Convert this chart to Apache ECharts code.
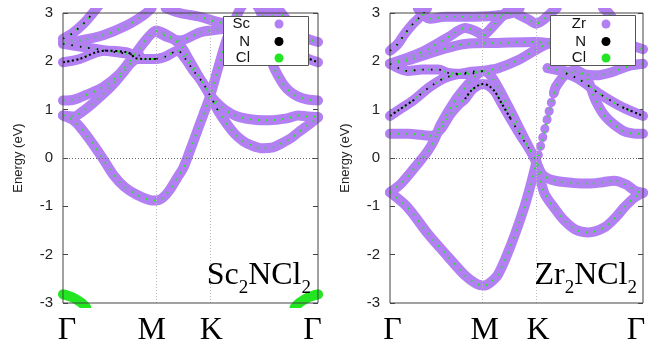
<!DOCTYPE html>
<html><head><meta charset="utf-8">
<script src="https://cdn.jsdelivr.net/npm/echarts@6/dist/echarts.min.js"></script>
<style>html,body{margin:0;padding:0;background:#fff}#c{width:651px;height:352px}</style>
</head><body><div id="c"></div>
<script>
// ---- axis data ----
const K_POS = [0, 1, 1.577, 2.732];
const K_LABELS = ['Γ', 'M', 'K', 'Γ'];
const E_MIN = -3, E_MAX = 3, E_STEP = 1;

// ---- Sc2NCl2 bands [k, E(eV)] ----
const sc_b1 = [[0,0.88],[0.11,0.78],[0.2,0.6],[0.32,0.29],[0.43,-0.02],[0.54,-0.35],[0.66,-0.6],[0.79,-0.76],[0.93,-0.87],[1.0,-0.88],[1.07,-0.82],[1.14,-0.67],[1.22,-0.42],[1.29,-0.2],[1.36,0.15],[1.45,0.62],[1.5,0.88],[1.577,1.29],[1.66,1.85],[1.75,2.43],[1.84,2.85],[1.92,3.15],[2.0,3.25],[2.08,3.15],[2.14,2.9],[2.2,2.3],[2.25,1.92],[2.3,1.72],[2.37,1.5],[2.43,1.38],[2.52,1.27],[2.62,1.21],[2.732,1.19]];
const sc_b2 = [[0,1.98],[0.18,2.05],[0.36,2.19],[0.47,2.22],[0.68,2.19],[0.73,2.15],[0.77,2.07],[0.88,2.05],[1.0,2.05],[1.1,2.1],[1.23,2.22],[1.3,2.08],[1.4,1.8],[1.5,1.55],[1.577,1.29],[1.66,0.98],[1.75,0.72],[1.84,0.5],[1.93,0.35],[2.02,0.26],[2.14,0.2],[2.25,0.22],[2.34,0.3],[2.45,0.42],[2.52,0.53],[2.64,0.7],[2.732,0.84]];
const sc_b3 = [[0,1.19],[0.1,1.2],[0.18,1.25],[0.43,1.47],[0.61,1.75],[0.75,2.09],[0.9,2.47],[1.0,2.64],[1.1,2.56],[1.2,2.44],[1.27,2.3],[1.34,2.07],[1.45,1.7],[1.577,1.3],[1.7,1.05],[1.8,0.92],[1.9,0.84],[2.05,0.79],[2.2,0.78],[2.4,0.82],[2.52,0.88],[2.62,0.86],[2.732,0.85]];
const sc_b4 = [[0,0.88],[0.12,0.86],[0.2,0.95],[0.3,1.1],[0.43,1.32],[0.55,1.55],[0.65,1.78],[0.72,1.95],[0.8,2.05],[0.9,2.05],[1.0,2.05]];
const sc_b5 = [[0,2.47],[0.1,2.58],[0.22,2.78],[0.32,3.0],[0.4,3.2]];
const sc_b6 = [[0,2.4],[0.2,2.44],[0.43,2.54],[0.68,2.74],[0.86,2.95],[0.95,3.1]];
const sc_b7 = [[0,2.36],[0.2,2.3],[0.4,2.24],[0.6,2.18],[0.82,2.12]];
const sc_b8 = [[2.3,3.1],[2.4,2.85],[2.5,2.62],[2.62,2.47],[2.732,2.4]];
const sc_b9 = [[2.2,3.1],[2.3,2.7],[2.45,2.3],[2.6,2.08],[2.732,1.98]];
const sc_b10 = [[1.0,2.62],[1.12,2.5],[1.25,2.43],[1.47,2.6],[1.71,2.67],[1.9,2.72]];
const sc_b11 = [[1.1,3.1],[1.25,3.0],[1.47,2.92],[1.71,2.8],[1.9,2.85]];
const sc_cl1 = [[0,-2.82],[0.1,-2.88],[0.2,-3.0],[0.25,-3.1]];
const sc_cl2 = [[2.48,-3.1],[2.53,-3.0],[2.63,-2.88],[2.732,-2.82]];

// ---- Zr2NCl2 bands [k, E(eV)] ----
const zr_b1a = [[0,-0.71],[0.19,-1.02],[0.41,-1.57],[0.63,-2.05],[0.81,-2.43],[0.93,-2.6],[1.01,-2.64],[1.08,-2.58],[1.17,-2.4],[1.31,-1.78],[1.45,-1.02],[1.52,-0.55],[1.577,-0.12]];
const zr_b1b = [[1.577,-0.12],[1.6,0.05],[1.65,0.43],[1.72,0.98],[1.77,1.35]];
const zr_b1c = [[1.77,1.35],[1.79,1.47],[1.9,1.74],[2.01,1.81],[2.12,1.67],[2.22,1.19],[2.33,0.85],[2.51,0.57],[2.62,0.51],[2.732,0.5]];
const zr_b2 = [[0,-0.71],[0.12,-0.53],[0.3,-0.12],[0.41,0.15],[0.48,0.38],[0.55,0.7],[0.7,1.18],[0.84,1.52],[0.95,1.74],[1.0,1.8],[1.08,1.72],[1.18,1.42],[1.3,0.98],[1.4,0.6],[1.5,0.22],[1.577,-0.08],[1.65,-0.35],[1.78,-0.47],[2.0,-0.52],[2.14,-0.53],[2.3,-0.5],[2.42,-0.47],[2.55,-0.55],[2.64,-0.67],[2.732,-0.72]];
const zr_b4 = [[0,0.5],[0.2,0.5],[0.33,0.48],[0.45,0.46],[0.55,0.6],[0.65,0.9],[0.75,1.12],[0.81,1.22],[0.88,1.4],[0.95,1.5],[1.0,1.53],[1.06,1.5],[1.13,1.38],[1.2,1.15],[1.3,0.82],[1.4,0.5],[1.5,0.2],[1.577,-0.05],[1.62,-0.4],[1.67,-0.74],[1.78,-1.05],[1.88,-1.29],[2.0,-1.48],[2.14,-1.54],[2.32,-1.43],[2.45,-1.2],[2.53,-1.02],[2.64,-0.82],[2.732,-0.72]];
const zr_b5 = [[0,1.95],[0.33,2.18],[0.63,2.5],[0.81,2.69],[0.95,2.6],[1.0,2.53],[1.05,2.6],[1.1,2.7],[1.22,2.95],[1.3,3.1]];
const zr_b6 = [[0,1.95],[0.1,1.85],[0.19,1.8],[0.35,1.83],[0.52,1.83],[0.63,1.76],[0.84,1.74],[1.0,1.8],[1.17,1.86],[1.38,2.02],[1.56,2.22],[1.7,2.36],[1.85,2.45]];
const zr_b7 = [[0,1.95],[0.19,2.02],[0.52,2.22],[0.81,2.36],[1.17,2.38],[1.56,2.4],[1.7,2.38],[1.85,2.32]];
const zr_b8a = [[0,0.87],[0.1,1.0],[0.25,1.19],[0.43,1.47],[0.61,1.67],[0.86,1.78],[1.0,1.8]];
const zr_b8b = [[1.9,1.75],[2.05,1.62],[2.26,1.33],[2.51,1.05],[2.732,0.87]];
const zr_b9 = [[1.7,1.86],[1.87,1.8],[2.05,1.74],[2.23,1.71],[2.4,1.78],[2.59,1.91],[2.732,1.95]];
const zr_b10 = [[2.3,3.1],[2.37,2.98],[2.5,2.6],[2.6,2.35],[2.732,2.25]];
const zr_b11 = [[0,2.22],[0.08,2.35],[0.16,2.57],[0.25,2.78],[0.34,2.95],[0.4,3.1]];
const zr_b12 = [[0.3,3.1],[0.43,2.88],[0.6,2.92],[0.86,2.92],[1.15,2.95],[1.3,2.99],[1.4,3.1]];
const zr_b13 = [[1.3,3.1],[1.37,2.99],[1.51,2.85],[1.577,2.78],[1.65,2.85],[1.73,2.99],[1.8,3.1]];

// ---- styles ----
const PURPLE = '#b280f2', GREEN = '#22e622', BLACK = '#000';

const scBands = [sc_b1, sc_b2, sc_b3, sc_b4, sc_b5, sc_b6, sc_b7, sc_b8, sc_b9, sc_b10, sc_b11];
const scDotted = [];
const scNdense = [sc_b2.slice(0, 9), sc_b9.slice(3)];
const scNsparse = [sc_b2.slice(8, 16), sc_b7, sc_b5];
const scCl = [sc_cl1, sc_cl2];
const zrBands = [zr_b1a, zr_b1c, zr_b2, zr_b4, zr_b5, zr_b6, zr_b7, zr_b8a, zr_b8b, zr_b9, zr_b10, zr_b11, zr_b12, zr_b13];
const zrDotted = [zr_b1b];
const zrNdense = [zr_b4.slice(7, 15), zr_b8a.slice(0, 3), zr_b8b.slice(3)];
const zrNsparse = [zr_b4.slice(14, 17), zr_b8a.slice(2), zr_b8b.slice(0, 4), zr_b6.slice(0, 8), zr_b11];

function line(data, gi, name, color, width, type, z, cap) {
  return {
    type: 'line', name: name, data: data, xAxisIndex: gi, yAxisIndex: gi * 2,
    showSymbol: false, smooth: 0.3, clip: true, silent: true, z: z,
    lineStyle: { color: color, width: width, type: type, cap: cap || 'round', join: 'round' }
  };
}

const series = [];
function panel(gi, metal, bands, dotted, nDense, nSparse, clList) {
  series.push({
    type: 'line', data: [], xAxisIndex: gi, yAxisIndex: gi * 2, silent: true,
    markLine: {
      symbol: 'none', silent: true, label: { show: false }, animation: false,
      data: [
        { xAxis: K_POS[1], lineStyle: { color: '#bbb', type: [1, 2], width: 1 } },
        { xAxis: K_POS[2], lineStyle: { color: '#bbb', type: [1, 2], width: 1 } },
        { yAxis: 0, lineStyle: { color: '#666', type: [1, 2], width: 1 } }
      ]
    }
  });
  bands.forEach(b => series.push(line(b, gi, metal, PURPLE, 10, 'solid', 3)));
  dotted.forEach(b => series.push(line(b, gi, metal, PURPLE, 9, [0.5, 8.5], 3)));
  clList.forEach(b => series.push(line(b, gi, 'Cl', GREEN, 10, 'solid', 3)));
  bands.concat(dotted).forEach(b => series.push(line(b, gi, 'Cl', GREEN, 2, [1.5, 6.5], 4, 'butt')));
  nDense.forEach(b => series.push(line(b, gi, 'N', BLACK, 2, [2, 2.5], 5, 'butt')));
  nSparse.forEach(b => series.push(line(b, gi, 'N', BLACK, 1.8, [1.5, 7], 5, 'butt')));
}
panel(0, 'Sc', scBands, scDotted, scNdense, scNsparse, scCl);
panel(1, 'Zr', zrBands, zrDotted, zrNdense, zrNsparse, []);

const grids = [
  { left: 63, top: 13, width: 255, height: 290 },
  { left: 390, top: 13, width: 253, height: 290 }
];

// per-label horizontal nudges (px), as in the reference figure
const LABEL_SHIFT = [[4, -4.5, 1, -5.5], [2.5, 2, 2, -7]];

const xAxes = grids.map((g, gi) => {
  const rich = {};
  LABEL_SHIFT[gi].forEach((s, i) => {
    rich['k' + i] = {
      fontFamily: '"Liberation Serif", "DejaVu Serif", serif', fontSize: 32, color: '#000',
      padding: s >= 0 ? [0, 0, 0, 2 * s] : [0, -2 * s, 0, 0]
    };
  });
  return {
    type: 'value', gridIndex: gi, min: K_POS[0], max: K_POS[K_POS.length - 1],
    axisLine: { show: false }, axisTick: { show: false }, splitLine: { show: false },
    axisLabel: {
      customValues: K_POS, margin: 12, showMinLabel: true, showMaxLabel: true, hideOverlap: false,
      formatter: function (v) {
        const i = K_POS.findIndex(p => Math.abs(p - v) < 1e-6);
        return i >= 0 ? '{k' + i + '|' + K_LABELS[i] + '}' : '';
      },
      rich: rich
    }
  };
});

const yAxes = [];
grids.forEach((g, i) => {
  yAxes.push({
    type: 'value', gridIndex: i, min: E_MIN, max: E_MAX, interval: E_STEP, position: 'left',
    name: 'Energy (eV)', nameLocation: 'middle', nameGap: 38, nameRotate: 90,
    nameTextStyle: { fontFamily: '"Liberation Sans", Arial, sans-serif', fontSize: 13, color: '#222' },
    axisLine: { show: false }, splitLine: { show: false },
    axisTick: { show: true, inside: true, length: 5, lineStyle: { color: '#444' } },
    axisLabel: { fontFamily: '"Liberation Sans", Arial, sans-serif', fontSize: 15, color: '#222', margin: 10 }
  });
  yAxes.push({
    type: 'value', gridIndex: i, min: E_MIN, max: E_MAX, interval: E_STEP, position: 'right',
    axisLine: { show: false }, splitLine: { show: false },
    axisTick: { show: true, inside: true, length: 5, lineStyle: { color: '#444' } },
    axisLabel: { show: false }
  });
});

// legends (text + symbols)
const LEGENDS = [
  { names: ['Sc', 'N', 'Cl'], box: [223, 16, 85, 49], textX: 250, dotX: 279 },
  { names: ['Zr', 'N', 'Cl'], box: [550, 15, 85, 50], textX: 586, dotX: 606 }
];
const LEGEND_COLORS = [PURPLE, BLACK, GREEN];
const ROW_Y = [24, 41.5, 58];
const graphic = [];
LEGENDS.forEach(L => {
  graphic.push({ type: 'rect', z: 100, shape: { x: L.box[0] + 0.5, y: L.box[1] + 0.5, width: L.box[2], height: L.box[3] },
    style: { fill: '#fff', stroke: '#555', lineWidth: 1 } });
  L.names.forEach((n, j) => {
    graphic.push({ type: 'text', z: 101, x: L.textX, y: ROW_Y[j],
      style: { text: n, font: '15px "Liberation Sans", Arial, sans-serif', fill: '#111',
        textAlign: 'right', textVerticalAlign: 'middle', align: 'right', verticalAlign: 'middle' } });
    graphic.push({ type: 'circle', z: 101, shape: { cx: L.dotX, cy: ROW_Y[j], r: 4.5 },
      style: { fill: LEGEND_COLORS[j] } });
  });
});

// compound names with subscripts
const COMPOUNDS = [
  { parts: [['Sc', 0], ['2', 1], ['NCl', 0], ['2', 1]], right: 311 },
  { parts: [['Zr', 0], ['2', 1], ['NCl', 0], ['2', 1]], right: 637 }
];
const MAIN_FONT = '32px "Liberation Serif", serif', SUB_FONT = '19px "Liberation Serif", serif';
const ctx = document.createElement('canvas').getContext('2d');
COMPOUNDS.forEach(c => {
  const widths = c.parts.map(p => { ctx.font = p[1] ? SUB_FONT : MAIN_FONT; return ctx.measureText(p[0]).width; });
  let x = c.right - widths.reduce((a, b) => a + b, 0);
  c.parts.forEach((p, i) => {
    graphic.push({ type: 'text', z: 101, x: x, y: p[1] ? 288 : 275.5,
      style: { text: p[0], font: p[1] ? SUB_FONT : MAIN_FONT, fill: '#000',
        textAlign: 'left', textVerticalAlign: 'middle', align: 'left', verticalAlign: 'middle' } });
    x += widths[i];
  });
});

const chart = echarts.init(document.getElementById('c'), null, { renderer: 'canvas' });
chart.setOption({
  animation: false,
  backgroundColor: '#fff',
  grid: grids.map(g => Object.assign({ show: true, borderColor: '#444', borderWidth: 1, backgroundColor: 'transparent', z: 10 }, g)),
  xAxis: xAxes,
  yAxis: yAxes,
  series: series,
  graphic: graphic
});
</script></body></html>
